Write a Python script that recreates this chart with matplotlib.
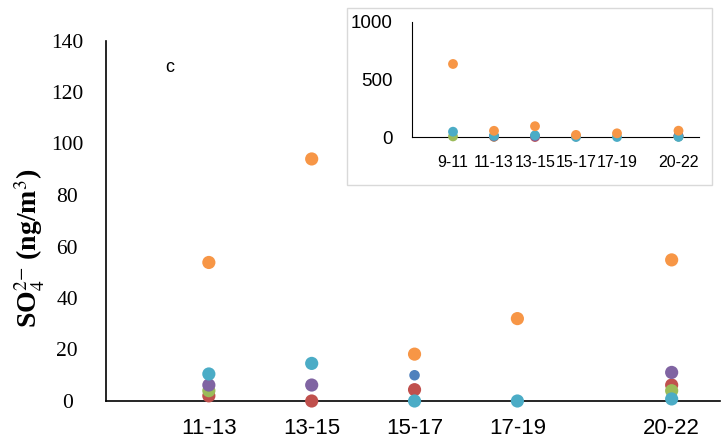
import numpy as np
import matplotlib
matplotlib.use("Agg")
import matplotlib.pyplot as plt
from matplotlib.patches import Rectangle

# sampling windows (hours) and SO4^2- concentrations per series
periods = ["9-11", "11-13", "13-15", "15-17", "17-19", "20-22"]
nan = np.nan
blue = [nan, nan, nan, 10.0, nan, nan]
red = [nan, 2.0, 0.0, 4.4, nan, 6.2]
green = [5.0, 4.0, nan, nan, nan, 4.0]
purple = [nan, 6.2, 6.2, nan, nan, 11.1]
cyan = [46.0, 10.5, 14.6, 0.0, 0.0, 0.8]
orange = [635.0, 53.8, 94.0, 18.2, 32.0, 54.8]

series = [
    (blue, "#4F81BD", 0.8),
    (red, "#C0504D", 1.0),
    (green, "#9BBB59", 1.0),
    (purple, "#8064A2", 1.0),
    (cyan, "#4BACC6", 1.0),
    (orange, "#F79646", 1.0),
]

# x position = middle hour of each window
hours = np.array([sum(map(float, p.split("-"))) / 2 for p in periods])

W, H = 721, 441
fig = plt.figure(figsize=(W / 100, H / 100), dpi=100)

# main panel (without the 9-11 window)
ax = fig.add_axes([106 / W, 1 - 401 / H, 614 / W, 360.5 / H])
main = slice(1, None)
for vals, col, scale in series:
    ax.scatter(hours[main], np.array(vals)[main], s=90 * scale ** 2, color=col,
               edgecolors="none", zorder=3, clip_on=False)
ax.set_xlim(10, 21.94)
ax.set_ylim(0, 140)
ax.set_yticks(range(0, 141, 20))
ax.set_xticks(hours[main])
ax.set_xticklabels(periods[1:], family="Liberation Sans", fontsize=16)
for t in ax.get_yticklabels():
    t.set_family("Liberation Serif")
    t.set_fontsize(15.5)
    t.set_horizontalalignment("center")
ax.tick_params(length=0, pad=12)
ax.tick_params(axis="y", pad=28)
for s in ["top", "right"]:
    ax.spines[s].set_visible(False)
for s in ["left", "bottom"]:
    ax.spines[s].set_linewidth(1.2)
fig.text(30 / W, 1 - 248 / H, r"SO$_4^{2\mathrm{-}}$ (ng/m$^3$)", rotation=90,
         ha="center", va="center", family="Liberation Serif",
         fontweight="bold", fontsize=20, math_fontfamily="stix")
fig.text(170 / W, 1 - 68 / H, "c", family="Liberation Sans", fontsize=13,
         ha="center", va="center")

# inset with all windows
fig.patches.append(Rectangle((347 / W, 1 - 185 / H), 365 / W, 177 / H,
                             transform=fig.transFigure, fill=False,
                             edgecolor="#d9d9d9", linewidth=1.0))
ins = fig.add_axes([412 / W, 1 - 137 / H, 287 / W, 115 / H])
for vals, col, scale in series:
    ins.scatter(hours, vals, s=50 * scale ** 2, color=col, edgecolors="none",
                zorder=3, clip_on=False)
ins.set_xlim(8, 22)
ins.set_ylim(0, 1000)
ins.set_yticks([0, 500, 1000])
ins.set_xticks(hours)
ins.set_xticklabels(periods, family="Liberation Sans", fontsize=11.5)
for t in ins.get_yticklabels():
    t.set_family("Liberation Sans")
    t.set_fontsize(13.5)
ins.tick_params(length=0, pad=13)
ins.tick_params(axis="y", pad=14)
for s in ["top", "right"]:
    ins.spines[s].set_visible(False)

fig.savefig("out.png", dpi=100)
